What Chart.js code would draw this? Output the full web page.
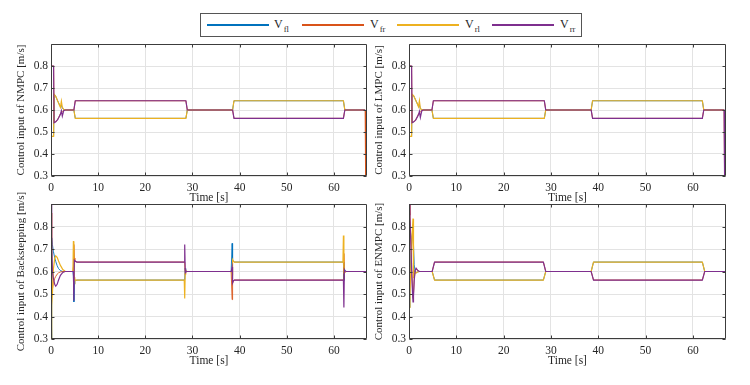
<!DOCTYPE html>
<html>
<head>
<meta charset="utf-8">
<script src="https://cdn.jsdelivr.net/npm/chart.js@4.4.0/dist/chart.umd.min.js"></script>
<style>
  html,body{margin:0;padding:0;background:#fff;}
  body{width:750px;height:385px;overflow:hidden;position:relative;font-family:"Liberation Serif","Times New Roman",serif;}
  canvas{position:absolute;}
  #legend{position:absolute;left:200px;top:13px;width:382px;height:24px;box-sizing:border-box;border:1px solid #555;background:#fff;z-index:5;}
  .lg-line{position:absolute;top:10px;width:62px;height:2px;}
  .lg-v{position:absolute;top:4px;font-size:12px;line-height:12px;color:#262626;white-space:nowrap;}
  .lg-s{font-size:8.5px;position:relative;top:4px;margin-left:1px;}
</style>
</head>
<body>
<canvas id="cTL" width="375" height="176" style="left:0;top:30px;width:375px;height:176px"></canvas>
<canvas id="cTR" width="376" height="176" style="left:358px;top:30px;width:376px;height:176px"></canvas>
<canvas id="cBL" width="375" height="184" style="left:0;top:185px;width:375px;height:184px"></canvas>
<canvas id="cBR" width="376" height="184" style="left:358px;top:185px;width:376px;height:184px"></canvas>
<div id="legend"></div>
<script>
// ---------- data ----------
const seriesMain = ['V', 'V', 'V', 'V'];
const seriesSub = ['fl', 'fr', 'rl', 'rr'];
const xTicks = [0, 10, 20, 30, 40, 50, 60];
const yTicks = [0.3, 0.4, 0.5, 0.6, 0.7, 0.8];
const xMax = 67;
const yMin = 0.3;
const yMax = 0.9;
const yTitles = ['Control input of NMPC [m/s]', 'Control input of LMPC [m/s]',
                 'Control input of Backstepping [m/s]', 'Control input of ENMPC [m/s]'];
const xTitle = 'Time [s]';

// NMPC
const nmpcTime = [0, 0.55, 0.65, 1.0, 1.4, 1.8, 2.0, 2.2, 2.4, 2.7, 3.0, 4.85, 5.15, 28.6, 28.9, 38.5, 38.8, 62.0, 62.3, 66.6, 66.7];
const nmpcFl = [0.48, 0.48, 0.672, 0.662, 0.642, 0.624, 0.616, 0.622, 0.608, 0.602, 0.600, 0.600, 0.562, 0.562, 0.600, 0.600, 0.642, 0.642, 0.600, 0.600, 0.600];
const nmpcFr = [0.80, 0.80, 0.542, 0.546, 0.556, 0.574, 0.584, 0.590, 0.592, 0.598, 0.600, 0.600, 0.642, 0.642, 0.600, 0.600, 0.562, 0.562, 0.600, 0.600, 0.300];
const nmpcRl = [0.48, 0.48, 0.672, 0.662, 0.642, 0.622, 0.612, 0.640, 0.612, 0.603, 0.600, 0.600, 0.562, 0.562, 0.600, 0.600, 0.642, 0.642, 0.600, 0.600, 0.600];
const nmpcRr = [0.80, 0.80, 0.542, 0.546, 0.556, 0.572, 0.580, 0.596, 0.572, 0.597, 0.600, 0.600, 0.642, 0.642, 0.600, 0.600, 0.562, 0.562, 0.600, 0.600, 0.600];

// LMPC
const lmpcTime = [0, 0.55, 0.65, 1.0, 1.4, 1.8, 2.0, 2.2, 2.4, 2.7, 3.0, 4.85, 5.15, 28.6, 28.9, 38.5, 38.8, 62.0, 62.3, 66.6, 66.7];
const lmpcFl = [0.48, 0.48, 0.672, 0.664, 0.645, 0.627, 0.618, 0.624, 0.606, 0.602, 0.600, 0.600, 0.562, 0.562, 0.600, 0.600, 0.642, 0.642, 0.600, 0.600, 0.600];
const lmpcFr = [0.80, 0.80, 0.542, 0.546, 0.554, 0.572, 0.582, 0.588, 0.592, 0.598, 0.600, 0.600, 0.642, 0.642, 0.600, 0.600, 0.562, 0.562, 0.600, 0.600, 0.300];
const lmpcRl = [0.48, 0.48, 0.672, 0.664, 0.645, 0.626, 0.615, 0.642, 0.606, 0.602, 0.600, 0.600, 0.562, 0.562, 0.600, 0.600, 0.642, 0.642, 0.600, 0.600, 0.600];
const lmpcRr = [0.80, 0.80, 0.542, 0.546, 0.554, 0.570, 0.578, 0.594, 0.566, 0.596, 0.600, 0.600, 0.642, 0.642, 0.600, 0.600, 0.562, 0.562, 0.600, 0.600, 0.300];

// Backstepping
const bsTime = [0, 0.1, 0.2, 0.3, 0.5, 0.8, 1.0, 1.3, 1.6, 2.0, 2.5, 3.0,
                4.65, 4.75, 4.85, 4.95, 5.05, 5.2, 5.5,
                28.25, 28.35, 28.45, 28.55, 28.7, 28.9,
                38.2, 38.3, 38.4, 38.5, 38.65, 38.9,
                61.9, 62.0, 62.1, 62.2, 62.35, 62.6, 67];
const bsFl = [0.50, 0.30, 0.75, 0.72, 0.69, 0.66, 0.645, 0.626, 0.613, 0.604, 0.600, 0.600,
              0.600, 0.580, 0.465, 0.545, 0.556, 0.559, 0.562,
              0.562, 0.565, 0.615, 0.604, 0.599, 0.600,
              0.600, 0.600, 0.725, 0.655, 0.645, 0.642,
              0.642, 0.642, 0.560, 0.612, 0.603, 0.600, 0.600];
const bsFr = [0.85, 0.86, 0.50, 0.52, 0.55, 0.57, 0.578, 0.588, 0.594, 0.598, 0.600, 0.600,
              0.600, 0.620, 0.720, 0.660, 0.648, 0.645, 0.642,
              0.642, 0.640, 0.585, 0.598, 0.601, 0.600,
              0.600, 0.600, 0.475, 0.545, 0.558, 0.562,
              0.562, 0.562, 0.680, 0.590, 0.598, 0.600, 0.600];
const bsRl = [0.30, 0.30, 0.45, 0.50, 0.61, 0.66, 0.670, 0.663, 0.647, 0.627, 0.609, 0.601,
              0.600, 0.735, 0.640, 0.575, 0.565, 0.562, 0.562,
              0.562, 0.480, 0.590, 0.606, 0.601, 0.600,
              0.600, 0.600, 0.585, 0.652, 0.646, 0.642,
              0.642, 0.760, 0.600, 0.592, 0.600, 0.600, 0.600];
const bsRr = [0.90, 0.90, 0.70, 0.60, 0.57, 0.542, 0.535, 0.543, 0.562, 0.583, 0.596, 0.600,
              0.600, 0.600, 0.470, 0.650, 0.648, 0.645, 0.642,
              0.642, 0.720, 0.610, 0.596, 0.600, 0.600,
              0.600, 0.600, 0.620, 0.550, 0.558, 0.562,
              0.562, 0.562, 0.440, 0.608, 0.602, 0.600, 0.600];

// ENMPC
const enTime = [0, 0.2, 0.4, 0.6, 0.75, 0.85, 0.95, 1.1, 1.3, 1.5, 1.8, 2.2, 4.9, 5.4, 28.4, 28.9, 38.5, 39.0, 62.0, 62.5, 67];
const enFl = [0.44, 0.54, 0.66, 0.75, 0.775, 0.77, 0.72, 0.63, 0.598, 0.594, 0.598, 0.600, 0.600, 0.562, 0.562, 0.600, 0.600, 0.642, 0.642, 0.600, 0.600];
const enFr = [0.90, 0.85, 0.74, 0.60, 0.52, 0.48, 0.50, 0.565, 0.605, 0.612, 0.604, 0.600, 0.600, 0.642, 0.642, 0.600, 0.600, 0.562, 0.562, 0.600, 0.600];
const enRl = [0.44, 0.50, 0.62, 0.74, 0.80, 0.835, 0.57, 0.588, 0.592, 0.594, 0.598, 0.600, 0.600, 0.562, 0.562, 0.600, 0.600, 0.642, 0.642, 0.600, 0.600];
const enRr = [0.90, 0.84, 0.72, 0.58, 0.50, 0.465, 0.49, 0.56, 0.605, 0.615, 0.606, 0.600, 0.600, 0.642, 0.642, 0.600, 0.600, 0.562, 0.562, 0.600, 0.600];

// ---------- style ----------
const colors = ['#0072BD', '#D95319', '#EDB120', '#7E2F8E'];
const widths = [0.9, 0.9, 1.2, 1.2];
const FONT = 'Liberation Serif';
const TXT = '#262626';

// legend (HTML, real text)
(function buildLegend(){
  const lg = document.getElementById('legend');
  const lineLeft = [6, 101, 196, 291];
  const textLeft = [73, 169, 264, 359];
  seriesSub.forEach((s, i) => {
    const l = document.createElement('div');
    l.className = 'lg-line';
    l.style.left = lineLeft[i] + 'px';
    l.style.backgroundColor = colors[i];
    lg.appendChild(l);
    const t = document.createElement('span');
    t.className = 'lg-v';
    t.style.left = textLeft[i] + 'px';
    t.innerHTML = seriesMain[i] + '<span class="lg-s">' + s + '</span>';
    lg.appendChild(t);
  });
})();

const framePlugin = {
  id: 'frame',
  afterDatasetsDraw(chart) {
    const {ctx, chartArea: a, scales: {x, y}} = chart;
    ctx.save();
    ctx.strokeStyle = '#3c3c3c';
    ctx.lineWidth = 1;
    ctx.beginPath();
    const L = Math.round(a.left) + 0.5, R = Math.round(a.right) - 0.5;
    const T = Math.round(a.top) + 0.5, B = Math.round(a.bottom) - 0.5;
    ctx.rect(L, T, R - L, B - T);
    const tl = 3;
    x.ticks.forEach(t => {
      const px = Math.round(x.getPixelForValue(t.value)) + 0.5;
      ctx.moveTo(px, B); ctx.lineTo(px, B - tl);
      ctx.moveTo(px, T); ctx.lineTo(px, T + tl);
    });
    y.ticks.forEach(t => {
      const py = Math.round(y.getPixelForValue(t.value)) + 0.5;
      ctx.moveTo(L, py); ctx.lineTo(L + tl, py);
      ctx.moveTo(R, py); ctx.lineTo(R - tl, py);
    });
    ctx.stroke();
    ctx.restore();
  }
};

function makePanel(id, padTop, yTitle, time, fl, fr, rl, rr) {
  const series = [fl, fr, rl, rr];
  const datasets = series.map((vals, i) => ({
    label: seriesMain[i] + '_' + seriesSub[i],
    data: time.map((t, k) => ({x: t, y: vals[k]})),
    borderColor: colors[i],
    borderWidth: widths[i],
    pointRadius: 0,
    tension: 0,
    fill: false
  })).reverse(); // first dataset is drawn on top: put rr on top
  new Chart(document.getElementById(id), {
    type: 'line',
    data: {datasets},
    plugins: [framePlugin],
    options: {
      responsive: false,
      animation: false,
      devicePixelRatio: 1,
      layout: {padding: {top: padTop, right: 8, bottom: 0, left: 0}},
      plugins: {legend: {display: false}, tooltip: {enabled: false}},
      scales: {
        x: {
          type: 'linear', min: 0, max: xMax,
          afterBuildTicks: s => { s.ticks = xTicks.map(v => ({value: v})); },
          afterFit: s => { s.height = 30; s.paddingLeft = 0; s.paddingRight = 0; },
          grid: {color: '#e3e3e3', lineWidth: 1, drawTicks: false},
          border: {display: false},
          ticks: {padding: 5, color: TXT, font: {family: FONT, size: 11.5}, maxRotation: 0,
                  callback: v => String(v)},
          title: {display: true, text: xTitle, color: TXT, font: {family: FONT, size: 11.5},
                  padding: {top: 0, bottom: 1}}
        },
        y: {
          type: 'linear', min: yMin, max: yMax,
          afterBuildTicks: s => { s.ticks = yTicks.map(v => ({value: v})); },
          afterFit: s => { s.width = 51; s.paddingTop = 0; s.paddingBottom = 0; },
          grid: {color: '#e3e3e3', lineWidth: 1, drawTicks: false},
          border: {display: false},
          ticks: {padding: 3, color: TXT, font: {family: FONT, size: 11.5},
                  callback: v => Number(v).toFixed(1)},
          title: {display: true, text: yTitle, color: TXT, font: {family: FONT, size: 11},
                  padding: {top: 15, bottom: 0}}
        }
      }
    }
  });
}

makePanel('cTL', 14, yTitles[0], nmpcTime, nmpcFl, nmpcFr, nmpcRl, nmpcRr);
makePanel('cTR', 14, yTitles[1], lmpcTime, lmpcFl, lmpcFr, lmpcRl, lmpcRr);
makePanel('cBL', 19, yTitles[2], bsTime, bsFl, bsFr, bsRl, bsRr);
makePanel('cBR', 19, yTitles[3], enTime, enFl, enFr, enRl, enRr);
</script>
</body>
</html>
